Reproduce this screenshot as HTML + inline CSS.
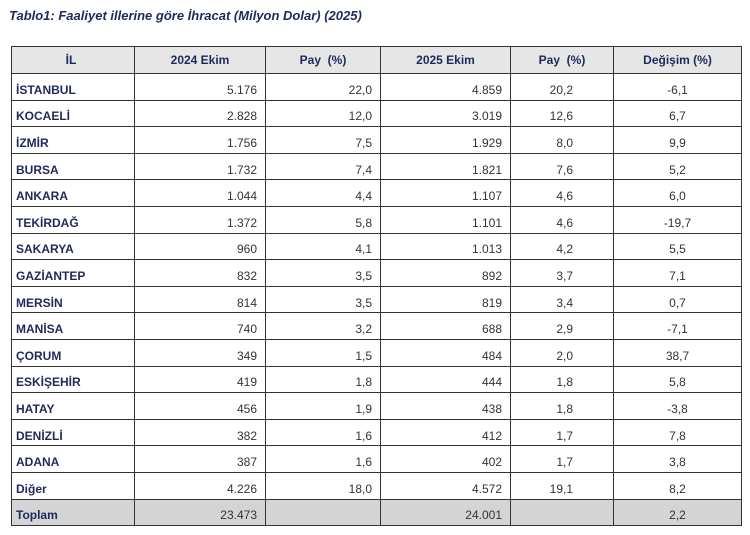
<!DOCTYPE html>
<html><head><meta charset="utf-8"><style>
body{margin:0;width:750px;height:535px;background:#fff;font-family:"Liberation Sans",sans-serif;overflow:hidden}
.t{position:absolute;left:9px;top:8px;font-size:13px;font-weight:bold;font-style:italic;color:#1f2a5a}
table{position:absolute;left:11px;top:46px;border-collapse:collapse;table-layout:fixed;width:730px;font-size:12px;color:#1f2a5a}
td{border:1px solid #333;height:26.6px;padding:6px 8px 0 8px;box-sizing:border-box;text-align:right;color:#333}
td:first-child{text-align:left;font-weight:bold;color:#1f2a5a;padding-left:4px}
tr.h td{background:#e6e6e6;text-align:center;font-weight:bold;color:#1f2a5a;height:27px;padding-top:0}
tr.tot td{background:#d4d4d4}
td.c{text-align:center}
td.r2{padding-right:40px}
</style></head><body>
<div class="t">Tablo1: Faaliyet illerine göre İhracat (Milyon Dolar) (2025)</div>
<table>
<colgroup><col style="width:123px"><col style="width:131px"><col style="width:115px"><col style="width:130px"><col style="width:103px"><col style="width:128px"></colgroup>
<tr class="h"><td>İL</td><td>2024 Ekim</td><td>Pay&nbsp; (%)</td><td>2025 Ekim</td><td>Pay&nbsp; (%)</td><td>Değişim (%)</td></tr>
<tr><td>İSTANBUL</td><td>5.176</td><td>22,0</td><td>4.859</td><td class="r2">20,2</td><td class="c">-6,1</td></tr>
<tr><td>KOCAELİ</td><td>2.828</td><td>12,0</td><td>3.019</td><td class="r2">12,6</td><td class="c">6,7</td></tr>
<tr><td>İZMİR</td><td>1.756</td><td>7,5</td><td>1.929</td><td class="r2">8,0</td><td class="c">9,9</td></tr>
<tr><td>BURSA</td><td>1.732</td><td>7,4</td><td>1.821</td><td class="r2">7,6</td><td class="c">5,2</td></tr>
<tr><td>ANKARA</td><td>1.044</td><td>4,4</td><td>1.107</td><td class="r2">4,6</td><td class="c">6,0</td></tr>
<tr><td>TEKİRDAĞ</td><td>1.372</td><td>5,8</td><td>1.101</td><td class="r2">4,6</td><td class="c">-19,7</td></tr>
<tr><td>SAKARYA</td><td>960</td><td>4,1</td><td>1.013</td><td class="r2">4,2</td><td class="c">5,5</td></tr>
<tr><td>GAZİANTEP</td><td>832</td><td>3,5</td><td>892</td><td class="r2">3,7</td><td class="c">7,1</td></tr>
<tr><td>MERSİN</td><td>814</td><td>3,5</td><td>819</td><td class="r2">3,4</td><td class="c">0,7</td></tr>
<tr><td>MANİSA</td><td>740</td><td>3,2</td><td>688</td><td class="r2">2,9</td><td class="c">-7,1</td></tr>
<tr><td>ÇORUM</td><td>349</td><td>1,5</td><td>484</td><td class="r2">2,0</td><td class="c">38,7</td></tr>
<tr><td>ESKİŞEHİR</td><td>419</td><td>1,8</td><td>444</td><td class="r2">1,8</td><td class="c">5,8</td></tr>
<tr><td>HATAY</td><td>456</td><td>1,9</td><td>438</td><td class="r2">1,8</td><td class="c">-3,8</td></tr>
<tr><td>DENİZLİ</td><td>382</td><td>1,6</td><td>412</td><td class="r2">1,7</td><td class="c">7,8</td></tr>
<tr><td>ADANA</td><td>387</td><td>1,6</td><td>402</td><td class="r2">1,7</td><td class="c">3,8</td></tr>
<tr><td>Diğer</td><td>4.226</td><td>18,0</td><td>4.572</td><td class="r2">19,1</td><td class="c">8,2</td></tr>
<tr class="tot"><td>Toplam</td><td>23.473</td><td></td><td>24.001</td><td></td><td class="c">2,2</td></tr>
</table>
</body></html>
